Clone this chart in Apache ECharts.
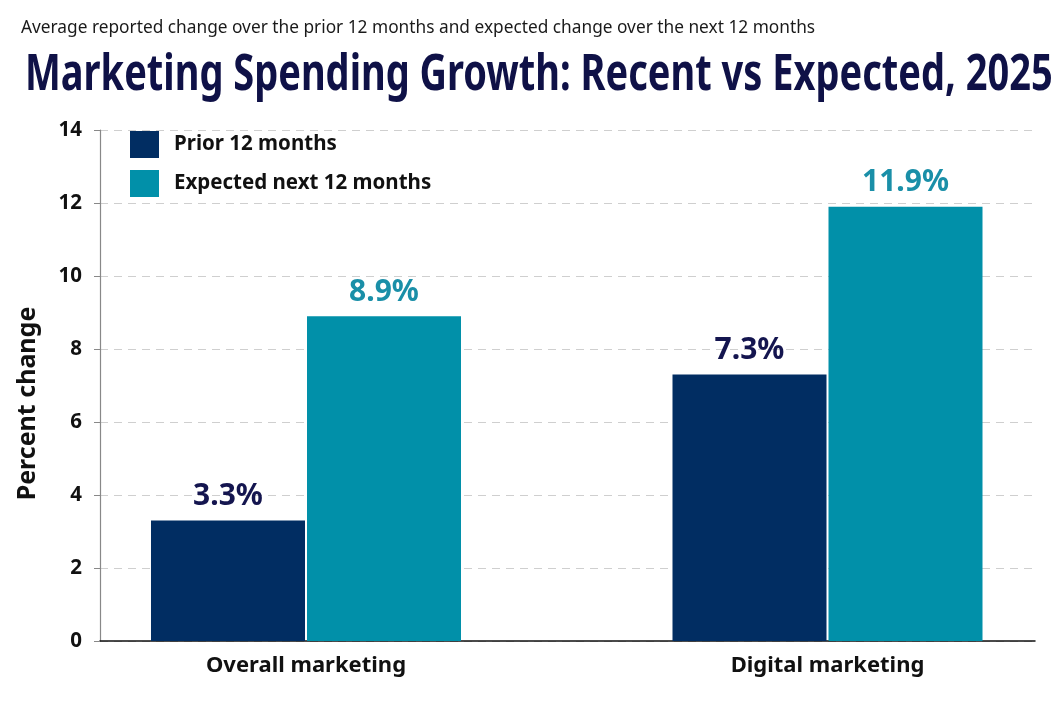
<!DOCTYPE html>
<html>
<head>
<meta charset="utf-8">
<script src="https://cdn.jsdelivr.net/npm/echarts@6/dist/echarts.min.js"></script>
<style>
html,body{margin:0;padding:0;background:#fff;}
#chart{width:1063px;height:708px;}
</style>
</head>
<body>
<div id="chart"></div>
<script>
var categories = ['Overall marketing', 'Digital marketing'];
var priorValues = [3.3, 7.3];
var expectedValues = [8.9, 11.9];
var seriesNames = ['Prior 12 months', 'Expected next 12 months'];
var yTicks = [0, 2, 4, 6, 8, 10, 12, 14];

var FONT = '"Noto Sans", "Open Sans", sans-serif';
var chart = echarts.init(document.getElementById('chart'), null, {renderer: 'canvas'});

var option = {
  backgroundColor: '#ffffff',
  animation: false,
  title: [
    {
      text: 'Average reported change over the prior 12 months and expected change over the next 12 months',
      left: 16, top: 15,
      textStyle: {fontFamily: FONT, fontSize: 17.3, fontWeight: 'normal', color: '#1a1a1a'}
    }
  ],
  graphic: [
    {
      type: 'text', x: 25, y: 76, scaleX: 0.76, scaleY: 1,
      style: {
        text: 'Marketing Spending Growth: Recent vs Expected, 2025',
        font: 'bold 50px "Noto Sans", sans-serif',
        fill: '#0f1147', align: 'left', verticalAlign: 'middle'
      }
    }
  ],
  legend: {
    data: seriesNames,
    orient: 'vertical',
    left: 125, top: 126,
    itemWidth: 29, itemHeight: 27, itemGap: 12,
    icon: 'rect',
    textStyle: {fontFamily: FONT, fontSize: 20.5, fontWeight: 'bold', color: '#111', padding: [0, 0, 0, 10]}
  },
  grid: [
    {left: 100, right: 28, top: 130, bottom: 67},
    {left: 45.25, width: 1043, top: 130, bottom: 67, outerBoundsMode: 'none'}
  ],
  xAxis: [
    {
      gridIndex: 0, type: 'category', data: categories,
      axisLine: {show: true, lineStyle: {color: '#111', width: 1.5}},
      axisTick: {show: false}, axisLabel: {show: false}, splitLine: {show: false}
    },
    {
      gridIndex: 1, type: 'category', data: categories,
      axisLine: {show: false}, axisTick: {show: false},
      axisLabel: {show: true, margin: 14, fontFamily: FONT, fontSize: 22, fontWeight: 'bold', color: '#111'},
      splitLine: {show: false}
    }
  ],
  yAxis: [
    {
      gridIndex: 0, type: 'value', min: yTicks[0], max: yTicks[yTicks.length - 1], interval: 2,
      name: 'Percent change', nameLocation: 'middle', nameGap: 60,
      nameTextStyle: {fontFamily: FONT, fontSize: 25, fontWeight: 'bold', color: '#111', padding: [0, 36, 0, 0]},
      axisLine: {show: true, lineStyle: {color: '#888', width: 1.2}},
      axisTick: {show: true, length: 6, lineStyle: {color: '#888'}},
      axisLabel: {margin: 18, fontFamily: FONT, fontSize: 20.5, fontWeight: 'bold', color: '#111'},
      splitLine: {show: true, lineStyle: {color: '#cfcfcf', type: [8, 6], width: 1}}
    },
    {
      gridIndex: 1, type: 'value', min: yTicks[0], max: yTicks[yTicks.length - 1], interval: 2,
      show: false, splitLine: {show: false}
    }
  ],
  series: [
    {
      name: seriesNames[0], type: 'bar', xAxisIndex: 1, yAxisIndex: 1,
      data: priorValues, barWidth: 154, barGap: '1.3%',
      itemStyle: {color: '#012d62'},
      label: {show: true, position: 'top', distance: 9, formatter: function (p) { return p.value.toFixed(1) + '%'; },
        fontFamily: FONT, fontSize: 30, fontWeight: 'bold', color: '#14154f'}
    },
    {
      name: seriesNames[1], type: 'bar', xAxisIndex: 1, yAxisIndex: 1,
      data: expectedValues, barWidth: 154, barGap: '1.3%',
      itemStyle: {color: '#0190a9'},
      label: {show: true, position: 'top', distance: 9, formatter: function (p) { return p.value.toFixed(1) + '%'; },
        fontFamily: FONT, fontSize: 30, fontWeight: 'bold', color: '#1a8fa8'}
    }
  ]
};
chart.setOption(option);
</script>
</body>
</html>
